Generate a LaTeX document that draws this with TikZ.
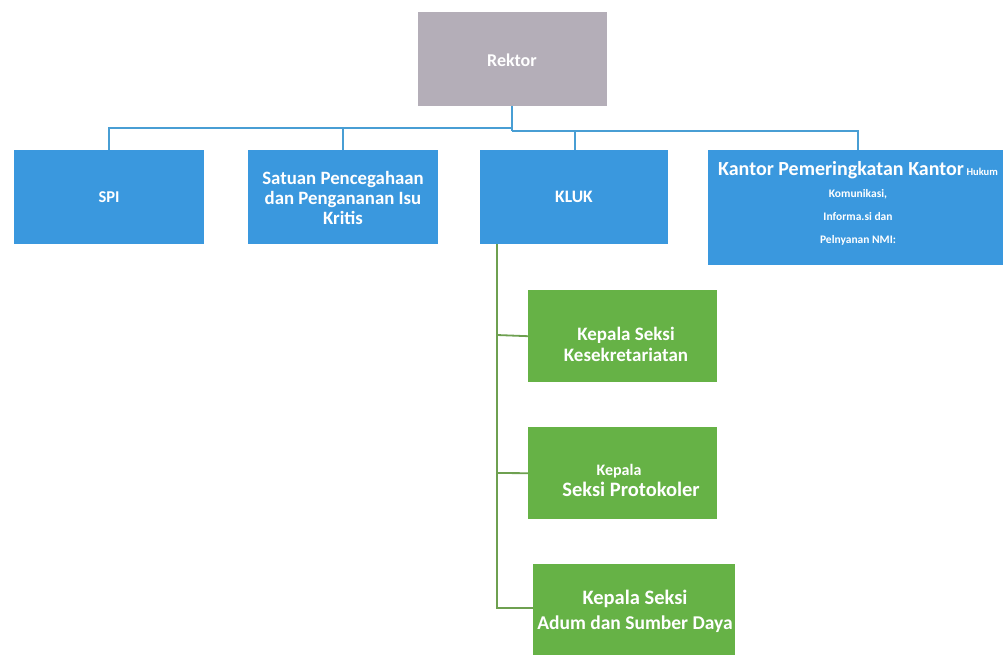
\documentclass[tikz,border=0pt]{standalone}
\usepackage{fontspec}
\setmainfont{Carlito}
\definecolor{boxblue}{RGB}{58,152,222}
\definecolor{boxgreen}{RGB}{102,178,70}
\definecolor{linkblue}{RGB}{72,158,212}
\definecolor{linkgreen}{RGB}{110,160,80}
\definecolor{rekgray}{RGB}{180,174,184}
\begin{document}
\begin{tikzpicture}[x=1pt,y=-1pt,
  unitbox/.style={fill=boxblue,inner sep=0pt,anchor=north west},
  sectbox/.style={fill=boxgreen,inner sep=0pt,anchor=north west},
  boxtext/.style={text=white,font=\bfseries,align=center,inner sep=0pt},
  bluelink/.style={draw=linkblue,line width=1.8pt},
  greenlink/.style={draw=linkgreen,line width=1.8pt}]
\useasboundingbox (0,0) rectangle (1003,655);
\fill[white] (0,0) rectangle (1003,655);
% boxes
\node[unitbox,fill=rekgray,minimum width=189pt,minimum height=94pt] (rek) at (418,12) {};
\node[unitbox,minimum width=190pt,minimum height=94pt] (spi) at (14,150) {};
\node[unitbox,minimum width=190pt,minimum height=94pt] (spk) at (248,150) {};
\node[unitbox,minimum width=188pt,minimum height=94pt] (kluk) at (480,150) {};
\node[unitbox,minimum width=300pt,minimum height=115pt] (kpk) at (708,150) {};
\node[sectbox,minimum width=189pt,minimum height=92pt] (ks1) at (528,290) {};
\node[sectbox,minimum width=189pt,minimum height=92pt] (ks2) at (528,427) {};
\node[sectbox,minimum width=202pt,minimum height=100pt] (ks3) at (533,564) {};
% texts
\node[boxtext,font=\bfseries\fontsize{18}{20}\selectfont] (rekt) at (512,60) {Rektor};
\node[boxtext,font=\bfseries\fontsize{16.5}{20}\selectfont] (spit) at (109,197) {SPI};
\node[boxtext,font=\bfseries\fontsize{18.8}{20}\selectfont] (spkt) at (343,198) {Satuan Pencegahaan\\dan Pengananan Isu\\Kritis};
\node[boxtext,font=\bfseries\fontsize{17.5}{20}\selectfont] (klukt) at (574,197) {KLUK};
\node[boxtext,font=\bfseries\fontsize{11.5}{22.7}\selectfont] (kpkt) at (858,203) {{\fontsize{20}{22.7}\selectfont Kantor Pemeringkatan Kantor} {\fontsize{10.5}{22.7}\selectfont Hukum}\\Komunikasi,\\Informa.si dan\\Pelnyanan NMI:};
\node[boxtext,font=\bfseries\fontsize{19}{21}\selectfont] (ks1t) at (626,344) {{\fontsize{19}{21}\selectfont Kepala Seksi}\\Kesekretariatan};
\node[boxtext,font=\bfseries\fontsize{20.5}{21}\selectfont] (ks2t) at (631,480) {{\fontsize{16}{21}\selectfont Kepala\hspace*{24pt}}\\Seksi Protokoler};
\node[boxtext,font=\bfseries\fontsize{19.5}{25}\selectfont] (ks3t) at (635,611) {{\fontsize{20.5}{25}\selectfont Kepala Seksi}\\Adum dan Sumber Daya};
% blue connectors
\coordinate (hubl) at (512,128);
\coordinate (hubr) at (512,131);
\draw[bluelink] (rek.south -| hubr) -- (hubr);
\draw[bluelink] (spi.north) |- (hubl);
\draw[bluelink] (hubr) -| (kpk.north -| 858,0);
\draw[bluelink] (spk.north) -- (spk.north |- hubl);
\draw[bluelink] (kluk.north -| 575,0) -- (575,131);
% green connectors
\coordinate (gtop) at (497,244);
\coordinate (gbot) at (497,608);
\draw[greenlink] (gtop) -- (gbot) -- (ks3.west |- gbot);
\draw[greenlink] (497,335) -- (ks1.west);
\draw[greenlink] (497,473) -- (ks2.west);
\end{tikzpicture}
\end{document}
